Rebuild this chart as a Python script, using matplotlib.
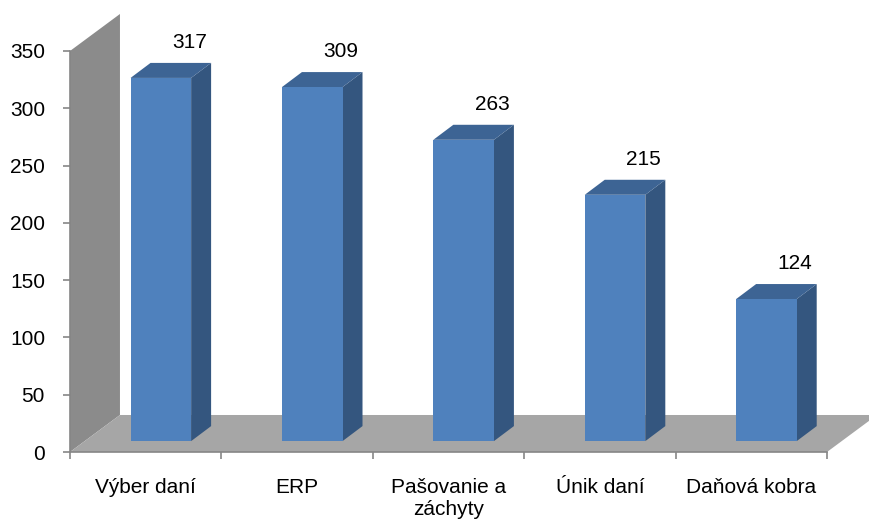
import matplotlib
matplotlib.use("Agg")
import matplotlib.pyplot as plt
from matplotlib.patches import Polygon

# ── data ──────────────────────────────────────────────────────────────────────
categories = ["Výber daní", "ERP", "Pašovanie a\nzáchyty", "Únik daní", "Daňová kobra"]
values = [317, 309, 263, 215, 124]
y_ticks = [0, 50, 100, 150, 200, 250, 300, 350]

# ── fake-3D geometry (category units / value units) ───────────────────────────
WALL_DX, WALL_DY = 0.33, 32.3      # depth of back wall / floor
SHIFT_DX, SHIFT_DY = 0.10, 9.5     # bars sit a bit behind the front edge
BAR_DX, BAR_DY = 0.132, 13.1       # bar depth
BAR_W = 0.40

FRONT, SIDE, TOP = "#4f81bd", "#34567f", "#3d6494"
WALL, FLOOR = "#8b8b8b", "#a6a6a6"
AXIS = "#868686"

plt.rcParams["font.family"] = ["Liberation Sans", "DejaVu Sans"]

fig = plt.figure(figsize=(8.69, 5.26), dpi=100)
ax = fig.add_axes([70 / 869, 74 / 526, 757 / 869, 401 / 526])
n = len(categories)
ax.set_xlim(0, n)
ax.set_ylim(0, 350)

# back wall + floor
ymax = y_ticks[-1]
ax.add_patch(Polygon([(0, 0), (0, ymax), (WALL_DX, ymax + WALL_DY), (WALL_DX, WALL_DY)],
                     closed=True, facecolor=WALL, edgecolor="none", clip_on=False, zorder=1))
ax.add_patch(Polygon([(0, 0), (WALL_DX, WALL_DY), (n + WALL_DX, WALL_DY), (n, 0)],
                     closed=True, facecolor=FLOOR, edgecolor="none", clip_on=False, zorder=1))

# bars
for i, v in enumerate(values):
    x0 = i + 0.5 + SHIFT_DX - BAR_W / 2
    x1 = x0 + BAR_W
    b = SHIFT_DY
    t = SHIFT_DY + v
    front = [(x0, b), (x1, b), (x1, t), (x0, t)]
    side = [(x1, b), (x1 + BAR_DX, b + BAR_DY), (x1 + BAR_DX, t + BAR_DY), (x1, t)]
    top = [(x0, t), (x0 + BAR_DX, t + BAR_DY), (x1 + BAR_DX, t + BAR_DY), (x1, t)]
    for poly, col in ((side, SIDE), (top, TOP), (front, FRONT)):
        ax.add_patch(Polygon(poly, closed=True, facecolor=col, edgecolor="none",
                             clip_on=False, zorder=3))
    ax.text(i + 0.5 + SHIFT_DX + 0.19, t + 31, str(v), ha="center", va="center",
            fontsize=15, color="black", zorder=4, clip_on=False)

# axes styling
for s in ("top", "right"):
    ax.spines[s].set_visible(False)
ax.spines["left"].set_color(AXIS)
ax.spines["bottom"].set_color(AXIS)
ax.spines["left"].set_linewidth(1.2)
ax.spines["bottom"].set_linewidth(1.2)
ax.spines["left"].set_zorder(2)
ax.spines["bottom"].set_zorder(2)

ax.set_yticks(y_ticks)
ax.tick_params(axis="y", direction="out", length=5, width=1.2, color=AXIS,
               pad=13, labelsize=15)

ax.set_xticks(range(n + 1))
ax.set_xticklabels([])
ax.tick_params(axis="x", which="major", direction="out", length=5, width=1.2, color=AXIS)
ax.set_xticks([i + 0.5 for i in range(n)], minor=True)
ax.set_xticklabels(categories, minor=True, fontsize=15, linespacing=1.15)
ax.tick_params(axis="x", which="minor", length=0, pad=19)
ax.set_facecolor("none")

fig.savefig("out.png", dpi=100)
